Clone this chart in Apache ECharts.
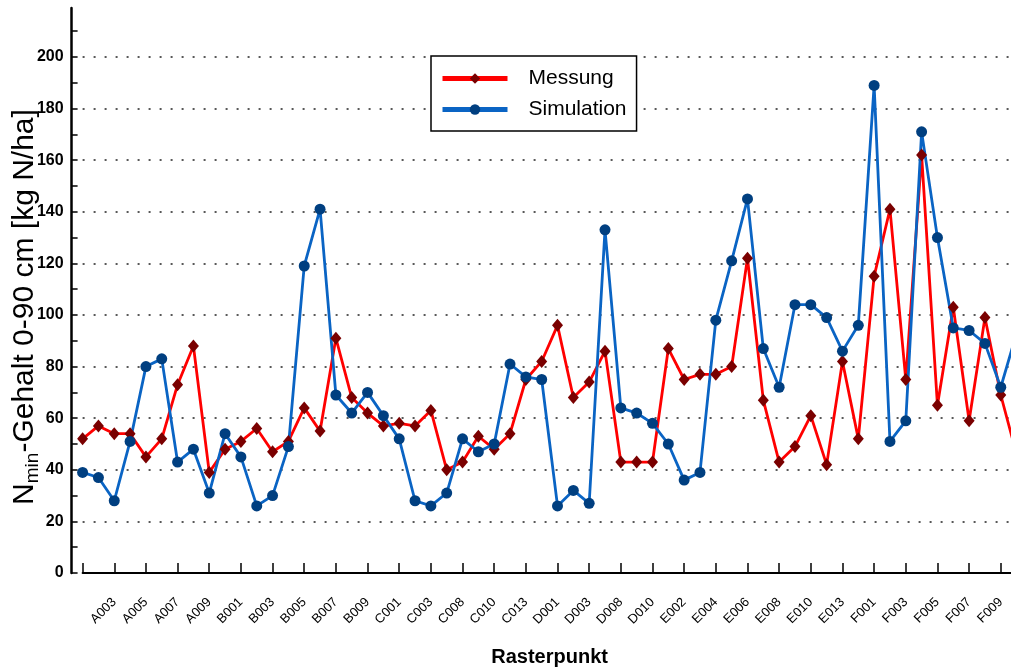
<!DOCTYPE html>
<html>
<head>
<meta charset="utf-8">
<script src="https://cdn.jsdelivr.net/npm/echarts@6/dist/echarts.min.js"></script>
<style>
  html, body { margin: 0; padding: 0; background: #fff; }
  #chart { width: 1011px; height: 670px; }
</style>
</head>
<body>
<div id="chart"></div>
<script>
  // Rasterpunkte (nur jeder zweite wird beschriftet)
  let categories = [
    'A001', 'A002', 'A003', 'A004', 'A005', 'A006', 'A007', 'A008', 'A009', 'A010',
    'B001', 'B002', 'B003', 'B004', 'B005', 'B006', 'B007', 'B008', 'B009', 'B010',
    'C001', 'C002', 'C003', 'C005', 'C008', 'C009', 'C010', 'C012', 'C013', 'C014',
    'D001', 'D002', 'D003', 'D006', 'D008', 'D009', 'D010', 'E001', 'E002', 'E003',
    'E004', 'E005', 'E006', 'E007', 'E008', 'E009', 'E010', 'E012', 'E013', 'E014',
    'F001', 'F002', 'F003', 'F004', 'F005', 'F006', 'F007', 'F008', 'F009', 'F010'
  ]
  let messung = [
    52, 57, 54, 54, 45, 52, 73, 88, 39, 48,
    51, 56, 47, 51, 64, 55, 91, 68, 62, 57,
    58, 57, 63, 40, 43, 53, 48, 54, 75, 82,
    96, 68, 74, 86, 43, 43, 43, 87, 75, 77,
    77, 80, 122, 67, 43, 49, 61, 42, 82, 52,
    115, 141, 75, 162, 65, 103, 59, 99, 69, 46
  ]
  let simulation = [
    39, 37, 28, 51, 80, 83, 43, 48, 31, 54,
    45, 26, 30, 49, 119, 141, 69, 62, 70, 61,
    52, 28, 26, 31, 52, 47, 50, 81, 76, 75,
    26, 32, 27, 133, 64, 62, 58, 50, 36, 39,
    98, 121, 145, 87, 72, 104, 104, 99, 86, 96,
    189, 51, 59, 171, 130, 95, 94, 89, 72, 93
  ]
  let yLabelValues = [0, 20, 40, 60, 80, 100, 120, 140, 160, 180, 200]
  let yTickValues = [0, 10, 20, 30, 40, 50, 60, 70, 80, 90, 100, 110, 120, 130, 140, 150, 160, 170, 180, 190, 200, 210]

  let font = '"Liberation Sans", Arial, sans-serif'

  let chart = echarts.init(document.getElementById('chart'))
  chart.setOption({
    animation: false,
    backgroundColor: '#fff',
    textStyle: { fontFamily: font },
    // the plot runs a little past the right edge of the picture
    grid: {
      left: 82.6,
      width: 934,
      top: 8,
      bottom: 97,
      containLabel: false,
      outerBoundsMode: 'none'
    },
    legend: {
      orient: 'vertical',
      left: 431,
      top: 56,
      padding: [12, 10, 11, 9],
      itemWidth: 65,
      itemHeight: 13,
      itemGap: 10,
      borderColor: '#000',
      borderWidth: 1.5,
      backgroundColor: '#fff',
      lineStyle: { width: 5 },
      textStyle: {
        fontSize: 21,
        color: '#000',
        fontFamily: font,
        padding: [0, 0, 0, 16]
      },
      data: ['Messung', 'Simulation']
    },
    graphic: [
      {
        type: 'text',
        x: 25,
        y: 307,
        rotation: Math.PI / 2,
        style: {
          text: 'N{sub|min}-Gehalt 0-90 cm [kg N/ha]',
          fontSize: 30,
          fontFamily: font,
          lineHeight: 34,
          fill: '#000',
          align: 'center',
          verticalAlign: 'middle',
          rich: {
            sub: {
              fontSize: 19,
              fontFamily: font,
              lineHeight: 18,
              verticalAlign: 'bottom'
            }
          }
        }
      }
    ],
    xAxis: {
      type: 'category',
      data: categories,
      boundaryGap: false,
      name: 'Rasterpunkt',
      nameLocation: 'middle',
      nameGap: 74,
      nameTextStyle: {
        fontSize: 20,
        fontWeight: 'bold',
        color: '#000',
        fontFamily: font
      },
      axisLine: { lineStyle: { color: '#000', width: 2 } },
      axisTick: {
        inside: true,
        length: 10,
        interval: (i) => i % 2 === 0,
        lineStyle: { color: '#000', width: 1.5 }
      },
      axisLabel: {
        interval: (i) => i % 2 === 0 && i > 0,
        rotate: 45,
        margin: 27,
        fontSize: 13,
        color: '#000',
        fontFamily: font
      },
      splitLine: { show: false }
    },
    yAxis: [
      {
        type: 'value',
        min: 0,
        max: 219,
        interval: 20,
        offset: 11,
        axisLine: { show: true, lineStyle: { color: '#000', width: 2.5 } },
        axisTick: {
          show: true,
          inside: true,
          length: 6,
          customValues: yTickValues,
          lineStyle: { color: '#000', width: 1.5 }
        },
        axisLabel: {
          customValues: yLabelValues,
          fontSize: 16,
          fontWeight: 'bold',
          color: '#000',
          margin: 8,
          fontFamily: font
        },
        splitLine: { show: false }
      },
      {
        // only for the dotted grid lines
        type: 'value',
        min: 0,
        max: 219,
        interval: 20,
        axisLine: { show: false },
        axisTick: { show: false },
        axisLabel: { show: false },
        splitLine: {
          show: true,
          showMinLine: false,
          showMaxLine: false,
          lineStyle: { type: [2, 9], color: '#222', width: 1.5 }
        }
      }
    ],
    series: [
      {
        name: 'Messung',
        type: 'line',
        data: messung,
        symbol: 'diamond',
        symbolSize: [11, 13],
        showAllSymbol: true,
        lineStyle: { color: '#ff0000', width: 2.8 },
        itemStyle: { color: '#7a0000' }
      },
      {
        name: 'Simulation',
        type: 'line',
        data: simulation,
        symbol: 'circle',
        symbolSize: 11,
        showAllSymbol: true,
        lineStyle: { color: '#0a64c4', width: 2.8 },
        itemStyle: { color: '#003f80' }
      }
    ]
  })
</script>
</body>
</html>
